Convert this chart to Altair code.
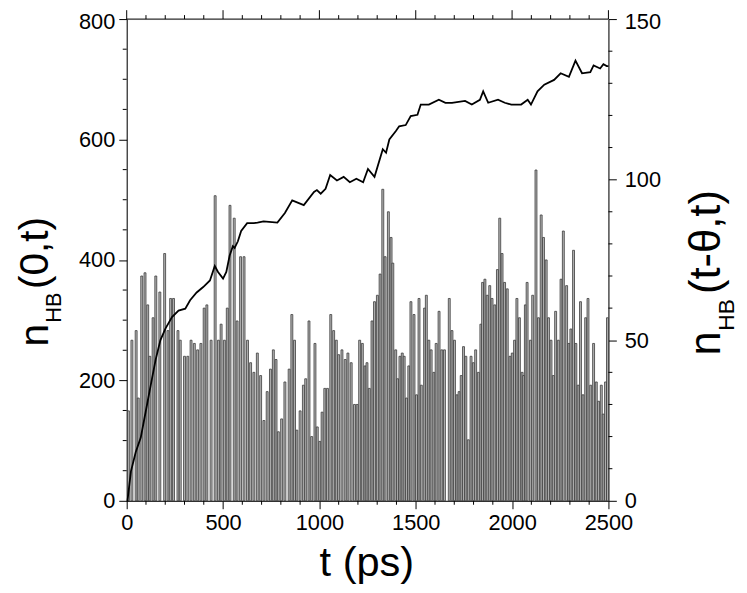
import altair as alt
import pandas as pd

# ---- bar series: n_HB(t-theta,t) (right axis) ----
bar_t = [4, 22, 44, 55, 73, 90, 104, 115, 132, 146, 167, 192, 209, 223, 238, 261, 273, 295, 312, 329, 346, 363, 380, 397,
         411, 433, 454, 471, 485, 502, 517, 531, 553, 568, 586, 604, 622, 638, 655, 673, 690, 707, 724, 741, 756, 770, 782, 799, 816,
         838, 852, 866, 878, 895, 912, 924, 941, 955, 972, 984, 997, 1009, 1023, 1037, 1054, 1069, 1083, 1095, 1112, 1129, 1143, 1160, 1177, 1191, 1204, 1218, 1232, 1242,
         1254, 1268, 1281, 1296, 1310, 1324, 1336, 1353, 1367, 1376, 1391, 1401, 1413, 1425, 1435, 1447, 1459, 1470, 1486, 1499, 1512, 1524, 1541, 1550, 1563, 1575, 1589, 1601, 1616, 1630, 1644,
         1669, 1683, 1696, 1709, 1720, 1731, 1743, 1755, 1768, 1782, 1794, 1806, 1820, 1833, 1842, 1854, 1866, 1879, 1891, 1905, 1919, 1931, 1943, 1956, 1970, 1984, 1996, 2008, 2020, 2033, 2047, 2055, 2064, 2073,
         2090, 2102, 2119, 2132, 2146, 2158, 2172, 2184, 2197, 2209, 2221, 2235, 2249, 2261, 2278, 2290, 2300, 2314, 2326, 2338, 2350, 2363, 2377, 2389, 2403, 2418, 2432, 2444, 2458, 2468, 2480, 2490]
bar_v = [28, 50, 53, 32, 70, 71, 61, 45, 57, 70, 65, 77, 53, 63, 63, 53, 50, 45, 45, 50, 49, 47, 49, 60,
         61, 50, 95, 50, 55, 50, 60, 92, 88, 56, 76, 76, 50, 43, 40, 46, 39, 25, 34, 41, 47, 44, 21.5, 25.5, 37,
         41, 58, 50, 22, 28, 36, 38, 56, 20, 49, 23, 18.5, 27.6, 35, 35, 58, 53, 50, 45.5, 47, 44, 46, 43, 30, 30, 50, 49, 42, 43,
         35, 56, 62, 64, 70.6, 97, 76, 90, 82, 74, 47, 38, 45, 46, 45, 32, 42, 62, 58, 33, 63, 36, 60, 64, 50, 47, 40, 49, 59, 47, 47,
         63, 53, 50, 33, 34, 39, 48, 45, 19, 45, 43, 47, 40, 55, 68, 69, 64, 67, 63, 61, 72, 88, 77, 68, 66, 45, 46, 50, 63, 57, 40, 39, 61, 68,
         50, 64, 103, 57, 89, 82, 75, 57, 50, 39, 59, 50, 69, 84, 67, 49, 53.5, 78, 49, 36, 62, 33, 57, 63, 36, 49, 37, 31, 36, 27, 37, 57]
bar_w = 10

# ---- line series: n_HB(0,t) (left axis) ----
line_t = [0, 4, 22, 47, 73, 98, 124, 150, 175, 201, 235, 269, 304, 329, 363, 397, 432, 457, 474, 500, 517, 534, 551, 560, 577, 594,
          625, 659, 679, 710, 782, 821, 859, 919, 972, 987, 1007, 1032, 1056, 1091, 1126, 1158, 1192, 1227, 1252, 1286, 1329, 1346, 1363, 1397,
          1414, 1448, 1474, 1509, 1526, 1568, 1620, 1654, 1688, 1756, 1791, 1833, 1850, 1876, 1927, 1962, 1996, 2047, 2081, 2098, 2132, 2167,
          2218, 2252, 2295, 2329, 2363, 2406, 2423, 2457, 2474, 2491, 2500]
line_v = [0, 0, 49, 81, 105, 147, 191, 234, 267, 286, 305, 316, 319, 333, 346, 355, 366, 390, 380, 369, 380, 407, 423, 420, 431, 448,
          461, 461, 462, 464, 462, 478, 499, 491, 513, 516, 510, 518, 541, 532, 538, 529, 535, 529, 551, 538, 584, 578, 600, 614,
          622, 624, 639, 641, 658, 658, 666, 661, 661, 664, 658, 666, 680, 661, 666, 661, 658, 658, 666, 658, 680, 691,
          699, 710, 704, 731, 710, 712, 723, 718, 725, 722, 722]

# ---- ticks ----
x_major = [0, 500, 1000, 1500, 2000, 2500]
x_minor = [100, 200, 300, 400, 600, 700, 800, 900, 1100, 1200, 1300, 1400, 1600, 1700, 1800, 1900, 2100, 2200, 2300, 2400]
yl_major = [0, 200, 400, 600, 800]
yl_minor = [50, 100, 150, 250, 300, 350, 450, 500, 550, 650, 700, 750]
yr_major = [0, 50, 100, 150]
yr_minor = [10, 20, 30, 40, 60, 70, 80, 90, 110, 120, 130, 140]

W, H = 487, 487
FONT = "Liberation Sans"
LBL = 22

bars_df = pd.DataFrame({"t": bar_t, "v": bar_v})
line_df = pd.DataFrame({"t": line_t, "n": line_v})

xscale = alt.Scale(domain=[0, 2500], nice=False, zero=False)
xaxis = alt.Axis(values=x_major, title=None, tickSize=8, labelPadding=4, labelFontSize=LBL, format="d",
                 labelFont=FONT, labelColor="black", domainColor="black", tickColor="black",
                 grid=False, labelFlush=False)

bars = alt.Chart(bars_df).transform_calculate(t2=f"datum.t + {bar_w}").mark_bar(
    fill="#b4b4b4", stroke="#3a3a3a", strokeWidth=0.8).encode(
    x=alt.X("t:Q", scale=xscale, axis=xaxis),
    x2="t2:Q",
    y=alt.Y("v:Q", scale=alt.Scale(domain=[0, 150], nice=False),
            axis=alt.Axis(values=yr_major, title=None, tickSize=8, labelPadding=8, labelFontSize=LBL, format="d",
                          labelFont=FONT, labelColor="black", domainColor="black", tickColor="black",
                          grid=False, orient="right", labelFlush=False,
                          labelOffset=alt.condition("datum.value == 150", alt.value(3), alt.value(0)))),
    y2=alt.datum(0),
)
right_minor = alt.Chart(pd.DataFrame({"y": yr_minor})).mark_rule(color="black", strokeWidth=1).encode(
    y="y:Q", x=alt.value(W), x2=alt.value(W + 4))

right_layer = alt.layer(bars, right_minor)

line = alt.Chart(line_df).mark_line(color="black", strokeWidth=1.8).encode(
    x=alt.X("t:Q", scale=xscale),
    y=alt.Y("n:Q", scale=alt.Scale(domain=[0, 800], nice=False),
            axis=alt.Axis(values=yl_major, title=None, tickSize=8, labelPadding=4, labelFontSize=LBL, format="d",
                          labelFont=FONT, labelColor="black", domainColor="black", tickColor="black",
                          grid=False, orient="left", labelFlush=False,
                          labelOffset=alt.condition("datum.value == 800", alt.value(3), alt.value(0)))),
)
left_minor = alt.Chart(pd.DataFrame({"y": yl_minor})).mark_rule(color="black", strokeWidth=1).encode(
    y="y:Q", x=alt.value(0), x2=alt.value(-4))

left_layer = alt.layer(line, left_minor)

xminor_df = pd.DataFrame({"x": x_minor})
xmajor_df = pd.DataFrame({"x": x_major})
bot_minor = alt.Chart(xminor_df).mark_rule(color="black", strokeWidth=1).encode(
    x=alt.X("x:Q", scale=xscale), y=alt.value(H), y2=alt.value(H + 4))
top_minor = alt.Chart(xminor_df).mark_rule(color="black", strokeWidth=1).encode(
    x=alt.X("x:Q", scale=xscale), y=alt.value(0), y2=alt.value(-4))
top_major = alt.Chart(xmajor_df).mark_rule(color="black", strokeWidth=1).encode(
    x=alt.X("x:Q", scale=xscale), y=alt.value(0), y2=alt.value(-9))
frame = alt.Chart(pd.DataFrame({"a": [0]})).mark_rule(color="black", strokeWidth=1).encode(
    x=alt.value(0), x2=alt.value(W), y=alt.value(0))

def txt(s, x, y, size, angle=270):
    return alt.Chart(pd.DataFrame({"a": [0]})).mark_text(
        text=s, font=FONT, fontSize=size, angle=angle, align="left", baseline="alphabetic", color="black"
    ).encode(x=alt.value(x), y=alt.value(y))

titles = [
    txt("n", -80, 331, 41), txt("HB", -66, 307, 22), txt("(0,t)", -80, 273, 41),
    txt("n", 600, 340, 44), txt("HB", 614, 315, 23), txt("(t-θ,t)", 600, 278, 44),
    txt("t (ps)", 195, 563, 42, angle=0),
]

chart = alt.layer(right_layer, left_layer, bot_minor, top_minor, top_major, frame, *titles).resolve_scale(
    y="independent").properties(
    width=W, height=H,
    autosize=alt.AutoSizeParams(type="none"),
    padding={"left": 120, "top": 8, "right": 132, "bottom": 90},
).configure_view(stroke="black", strokeWidth=1).configure(background="white")

chart.save("out.html", embed_options={"renderer": "svg", "actions": False})
